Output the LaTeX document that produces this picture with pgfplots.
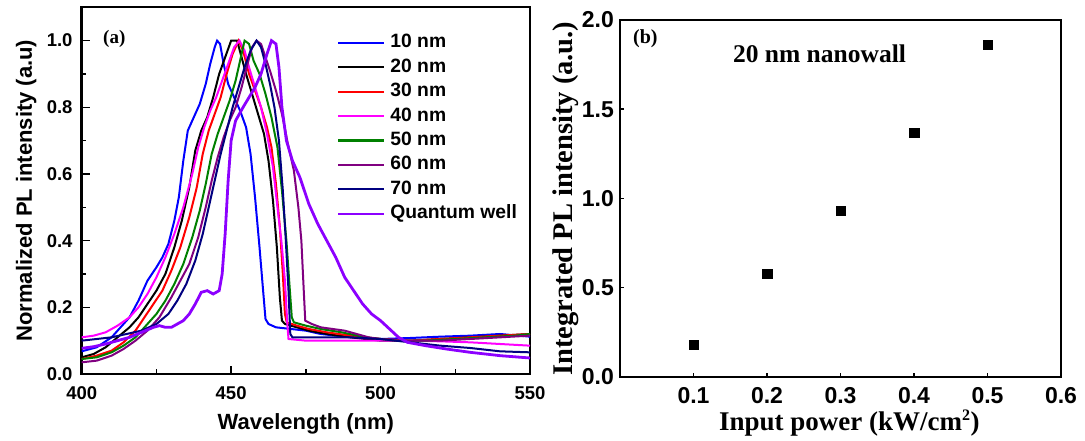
\documentclass[border=0pt]{standalone}
\usepackage{pgfplots}
\pgfplotsset{compat=1.18}
\usepackage{fontspec}
\setmainfont{Liberation Serif}
\newfontfamily\arial{Liberation Sans}
\definecolor{cBlue}{RGB}{0,0,255}
\definecolor{cRed}{RGB}{255,0,0}
\definecolor{cMag}{RGB}{255,0,255}
\definecolor{cGreen}{RGB}{0,128,0}
\definecolor{cPurp}{RGB}{128,0,128}
\definecolor{cNavy}{RGB}{0,0,128}
\definecolor{cQW}{RGB}{140,0,255}
\begin{document}
\begin{tikzpicture}
\useasboundingbox (0,0) rectangle (1085pt,441pt);
% ---------------- (a) ----------------
\begin{axis}[
  at={(81.7pt,67pt)}, anchor=south west,
  scale only axis, width=448.3pt, height=366.7pt,
  xmin=400, xmax=550, ymin=0, ymax=1.1,
  xtick={400,450,500,550}, ytick={0,0.2,0.4,0.6,0.8,1.0},
  minor x tick num=1, minor y tick num=1,
  xtick pos=left, ytick pos=left, tick align=inside,
  major tick length=8pt, minor tick length=4.5pt,
  every tick/.style={black, line width=1.5pt},
  axis line style={line width=2.4pt},
  /pgf/number format/assume math mode=true,
  xticklabel style={font=\arial\bfseries\fontsize{18.5}{18.5}\selectfont, anchor=base, inner sep=0pt, yshift=-26pt},
  yticklabel style={font=\arial\bfseries\fontsize{18.5}{18.5}\selectfont, anchor=east, inner sep=0pt, xshift=-9pt,
     /pgf/number format/fixed, /pgf/number format/fixed zerofill, /pgf/number format/precision=1},
  xlabel={Wavelength (nm)},
  ylabel={Normalized PL intensity (a.u)},
  xlabel style={font=\arial\bfseries\fontsize{22}{22}\selectfont, at={(axis description cs:0.5,-0.1527)}, anchor=base, inner sep=0pt},
  ylabel style={font=\arial\bfseries\fontsize{22}{22}\selectfont, at={(axis description cs:-0.1109,0.5)}, anchor=base, rotate=0, inner sep=0pt},
  legend style={draw=none, fill=none, at={(axis description cs:0.5695,0.932)}, anchor=north west,
     inner sep=0pt, row sep=3.4pt, column sep=3pt,
     font=\arial\bfseries\fontsize{19.3}{19.3}\selectfont,
     nodes={inner sep=2pt, text height=13.5pt, text depth=3.5pt}},
  legend cell align=left,
  legend image code/.code={\draw[#1, line width=2.2pt] (0pt,0pt) -- (46pt,0pt);},
  clip=true,
]
\addplot[cBlue, line width=2pt] coordinates {
(400,0.068)(405,0.08)(410,0.11)(413,0.14)(416,0.17)(419,0.22)(422,0.28)(425,0.32)(427,0.35)(429,0.39)(431,0.46)(432.5,0.53)(434,0.64)(435.5,0.73)(437.5,0.77)(439.5,0.81)(441.5,0.87)(443,0.93)(444.5,0.98)(445.3,1.0)(446.3,0.99)(447.5,0.93)(449,0.87)(451,0.83)(453,0.79)(455,0.74)(456.5,0.66)(458,0.53)(459.5,0.38)(460.7,0.25)(461.5,0.165)(462.5,0.15)(465,0.14)(470,0.135)(475,0.13)(480,0.12)(490,0.11)(500,0.105)(510,0.108)(520,0.112)(530,0.115)(540,0.12)(550,0.112)};
\addlegendentry{10 nm}
\addplot[black, line width=2pt] coordinates {
(400,0.05)(404,0.06)(408,0.08)(412,0.11)(416,0.14)(419,0.17)(422,0.21)(425,0.25)(428,0.3)(431,0.38)(433.5,0.46)(436,0.56)(438,0.67)(440,0.73)(442,0.77)(444,0.83)(446,0.9)(448,0.95)(450,1.0)(452,1.0)(453.5,0.95)(455,0.9)(457,0.84)(459,0.78)(461,0.72)(462.5,0.64)(464,0.52)(465.3,0.38)(466.3,0.23)(467,0.16)(468,0.15)(472,0.14)(476,0.13)(482,0.12)(490,0.11)(500,0.1)(510,0.1)(520,0.105)(530,0.11)(540,0.115)(550,0.12)};
\addlegendentry{20 nm}
\addplot[cRed, line width=2pt] coordinates {
(400,0.045)(405,0.055)(410,0.07)(414,0.095)(418,0.13)(421,0.17)(424,0.21)(427,0.25)(430,0.31)(433,0.38)(436,0.47)(438.5,0.56)(440.5,0.66)(442.5,0.73)(444.5,0.78)(446.5,0.83)(448.5,0.9)(450.5,0.96)(452.5,1.0)(454,0.97)(456,0.9)(458,0.85)(460,0.8)(462,0.74)(463.5,0.68)(465,0.57)(466.3,0.44)(467.3,0.3)(468,0.18)(468.6,0.155)(472,0.145)(476,0.135)(482,0.125)(490,0.115)(500,0.105)(510,0.1)(520,0.105)(530,0.11)(540,0.115)(550,0.12)};
\addlegendentry{30 nm}
\addplot[cMag, line width=2pt] coordinates {
(400,0.11)(404,0.115)(408,0.125)(412,0.145)(416,0.17)(419,0.2)(422,0.24)(425,0.29)(428,0.35)(431,0.42)(434,0.5)(437,0.6)(439,0.68)(441,0.74)(443,0.79)(445,0.83)(447,0.88)(449,0.93)(451,0.98)(452.8,1.0)(454.5,0.97)(456,0.92)(458,0.86)(460,0.8)(462,0.72)(464,0.62)(465.5,0.5)(466.8,0.4)(468,0.28)(468.8,0.15)(469.2,0.105)(475,0.1)(485,0.1)(500,0.1)(510,0.1)(520,0.098)(530,0.095)(540,0.09)(550,0.085)};
\addlegendentry{40 nm}
\addplot[cGreen, line width=2pt] coordinates {
(400,0.045)(405,0.05)(410,0.065)(414,0.085)(418,0.11)(422,0.15)(425,0.18)(428,0.22)(431,0.27)(434,0.33)(437,0.41)(439.5,0.49)(441.5,0.57)(443.5,0.66)(445.5,0.72)(447.5,0.77)(449.5,0.82)(451.5,0.88)(453,0.94)(454.5,1.0)(456,0.99)(457.5,0.94)(459.5,0.9)(461.5,0.84)(463.5,0.77)(465.5,0.68)(467,0.55)(468.5,0.4)(469.5,0.27)(470.3,0.17)(471,0.155)(475,0.145)(480,0.135)(487,0.125)(495,0.11)(505,0.1)(515,0.1)(525,0.105)(535,0.11)(545,0.115)(550,0.12)};
\addlegendentry{50 nm}
\addplot[cPurp, line width=2pt] coordinates {
(400,0.035)(405,0.04)(410,0.055)(414,0.075)(418,0.1)(422,0.13)(426,0.17)(430,0.23)(433,0.28)(436,0.33)(439,0.41)(441.5,0.5)(443.5,0.58)(445.5,0.65)(447.5,0.71)(449.5,0.76)(451.5,0.8)(453.5,0.86)(455.5,0.93)(457,0.98)(458.5,1.0)(460,0.99)(461.5,0.95)(463,0.91)(465,0.85)(467,0.78)(469,0.69)(471,0.61)(472.5,0.5)(473.5,0.4)(474.3,0.25)(474.8,0.16)(477,0.15)(480,0.14)(484,0.135)(488,0.13)(492,0.12)(496,0.11)(500,0.105)(505,0.1)(510,0.1)(520,0.1)(530,0.105)(540,0.11)(550,0.115)};
\addlegendentry{60 nm}
\addplot[cNavy, line width=2pt] coordinates {
(400,0.1)(405,0.105)(410,0.11)(415,0.12)(420,0.13)(425,0.15)(429,0.18)(432,0.22)(435,0.27)(438,0.34)(440.5,0.42)(442.5,0.5)(444.5,0.58)(446.5,0.66)(448.5,0.73)(450.5,0.8)(452.5,0.86)(454.5,0.92)(456.5,0.97)(458.5,1.0)(460,0.98)(461.5,0.93)(463,0.87)(464.5,0.8)(466,0.7)(467.3,0.55)(468.3,0.4)(469.2,0.25)(469.8,0.12)(470.5,0.11)(480,0.11)(490,0.11)(500,0.105)(505,0.1)(510,0.095)(520,0.085)(530,0.078)(540,0.068)(550,0.065)};
\addlegendentry{70 nm}
\addplot[cQW, line width=2.8pt] coordinates {
(400,0.077)(404,0.082)(408,0.09)(412,0.1)(416,0.11)(420,0.125)(424,0.14)(426,0.145)(428,0.14)(430,0.14)(432,0.15)(434,0.16)(436,0.18)(438,0.21)(440,0.245)(442,0.25)(444,0.24)(446,0.25)(447,0.3)(448,0.42)(449,0.58)(450,0.7)(451.5,0.76)(454,0.8)(456,0.83)(458,0.86)(460,0.9)(462,0.96)(463.5,1.0)(465,0.99)(466,0.92)(467,0.8)(468.5,0.7)(470.5,0.64)(473,0.59)(476,0.51)(479,0.45)(482,0.4)(485,0.35)(488,0.29)(491,0.25)(494,0.21)(497,0.18)(500,0.16)(503,0.135)(506,0.11)(509,0.095)(515,0.085)(522,0.075)(530,0.065)(540,0.055)(550,0.048)};
\addlegendentry{Quantum well}
\node[font=\bfseries\fontsize{19}{19}\selectfont, anchor=base west, inner sep=0pt] at (rel axis cs:0.0475,0.900) {(a)};
\end{axis}
% ---------------- (b) ----------------
\begin{axis}[
  at={(620pt,64pt)}, anchor=south west,
  scale only axis, width=441pt, height=357pt,
  xmin=0, xmax=0.6, ymin=0, ymax=2.0,
  xtick={0.1,0.2,0.3,0.4,0.5,0.6}, ytick={0,0.5,1.0,1.5,2.0},
  xtick pos=left, ytick pos=left, tick align=inside,
  major tick length=4pt,
  every tick/.style={black, line width=1.5pt},
  axis line style={line width=2.4pt},
  /pgf/number format/assume math mode=true,
  xticklabel style={font=\arial\bfseries\fontsize{23}{23}\selectfont, anchor=base, inner sep=0pt, yshift=-26.3pt,
     /pgf/number format/fixed, /pgf/number format/fixed zerofill, /pgf/number format/precision=1},
  yticklabel style={font=\arial\bfseries\fontsize{23}{23}\selectfont, anchor=east, inner sep=0pt, xshift=-6pt,
     /pgf/number format/fixed, /pgf/number format/fixed zerofill, /pgf/number format/precision=1},
  xlabel={Input power (kW/cm\textsuperscript{\fontsize{16}{16}\selectfont 2})},
  ylabel={Integrated PL intensity (a.u.)},
  xlabel style={font=\bfseries\fontsize{27}{27}\selectfont, at={(axis description cs:0.52,-0.1485)}, anchor=base, inner sep=0pt},
  ylabel style={font=\bfseries\fontsize{28.5}{28.5}\selectfont, at={(axis description cs:-0.1066,0.5)}, anchor=base, rotate=0, inner sep=0pt},
]
\addplot[only marks, mark=square*, mark size=4.7pt, black] coordinates {
(0.1,0.18)(0.2,0.58)(0.3,0.93)(0.4,1.37)(0.5,1.86)};
\node[font=\bfseries\fontsize{20}{20}\selectfont, anchor=base west, inner sep=0pt] at (rel axis cs:0.0295,0.933) {(b)};
\node[font=\bfseries\fontsize{25.5}{25.5}\selectfont, anchor=base west, inner sep=0pt] at (rel axis cs:0.256,0.8796) {20 nm nanowall};
\end{axis}
\end{tikzpicture}
\end{document}
